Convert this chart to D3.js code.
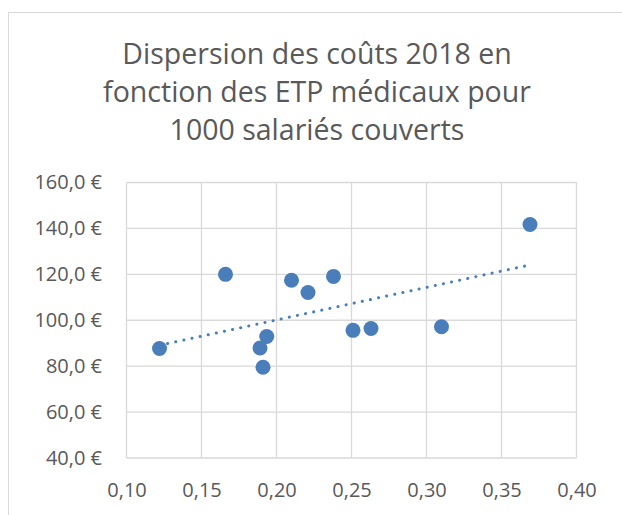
<!DOCTYPE html>
<html lang="fr">
<head>
<meta charset="UTF-8">
<title>Dispersion des coûts 2018</title>
<script src="https://d3js.org/d3.v7.min.js"></script>
<style>
  body { margin: 0; background: #fff; }
  svg text { font-family: "Open Sans", Lato, sans-serif; fill: #595959; }
</style>
</head>
<body>
<div id="chart"></div>
<script>
// donnees
var etp   = [0.122, 0.166, 0.210, 0.221, 0.238, 0.1935, 0.189, 0.191, 0.251, 0.263, 0.310, 0.369];
var couts = [87.7, 120.0, 117.4, 112.1, 119.1, 92.9, 87.9, 79.5, 95.6, 96.4, 97.2, 141.7];
var titre = ["Dispersion des coûts 2018 en", "fonction des ETP médicaux pour", "1000 salariés couverts"];
var xTicks = [0.10, 0.15, 0.20, 0.25, 0.30, 0.35, 0.40];
var yTicks = [40, 60, 80, 100, 120, 140, 160];

var W = 622, H = 515;
var marge = {haut: 182.5, droite: 45.5, bas: 57, gauche: 126.5};
var bleu = "#4a7ebb";

var svg = d3.select("#chart").append("svg")
    .attr("width", W).attr("height", H);

// cadre du graphique (depasse de l'image a droite et en bas)
svg.append("rect")
    .attr("x", 8.5).attr("y", 12.5)
    .attr("width", W + 20).attr("height", H + 20)
    .attr("fill", "#fff").attr("stroke", "#d9d9d9").attr("stroke-width", 1);

// titre
svg.append("text")
    .attr("x", 317).attr("y", 64)
    .attr("text-anchor", "middle")
    .style("font-size", "28.5px")
  .selectAll("tspan").data(titre).join("tspan")
    .attr("x", 317)
    .attr("dy", function(d, i) { return i ? 38 : 0; })
    .text(function(d) { return d; });

var x = d3.scaleLinear().domain([0.10, 0.40]).range([marge.gauche, W - marge.droite]);
var y = d3.scaleLinear().domain([40, 160]).range([H - marge.bas, marge.haut]);

var fmtX = function(d) { return d3.format(".2f")(d).replace(".", ","); };
var fmtY = function(d) { return d3.format(".1f")(d).replace(".", ",") + " €"; };

// grille
var grille = svg.append("g").attr("stroke", "#d9d9d9").attr("stroke-width", 1.3);
grille.selectAll("line.v").data(xTicks).join("line")
    .attr("class", "v")
    .attr("x1", function(d) { return x(d); }).attr("x2", function(d) { return x(d); })
    .attr("y1", y(40)).attr("y2", y(160));
grille.selectAll("line.h").data(yTicks).join("line")
    .attr("class", "h")
    .attr("x1", x(0.10)).attr("x2", x(0.40))
    .attr("y1", function(d) { return y(d); }).attr("y2", function(d) { return y(d); });

// axes (texte seulement)
var axeX = svg.append("g")
    .attr("transform", "translate(0," + (H - marge.bas) + ")")
    .call(d3.axisBottom(x).tickValues(xTicks).tickFormat(fmtX).tickSize(0).tickPadding(25));
var axeY = svg.append("g")
    .attr("transform", "translate(" + marge.gauche + ",0)")
    .call(d3.axisLeft(y).tickValues(yTicks).tickFormat(fmtY).tickSize(0).tickPadding(24.5));
[axeX, axeY].forEach(function(a) {
  a.select(".domain").remove();
  a.selectAll("text").style("font-size", "20px").attr("fill", "#595959")
    .style("font-family", "'Open Sans', Lato, sans-serif");
});

// courbe de tendance lineaire (moindres carres)
var mx = d3.mean(etp), my = d3.mean(couts);
var sxy = d3.sum(etp, function(v, i) { return (v - mx) * (couts[i] - my); });
var sxx = d3.sum(etp, function(v) { return (v - mx) * (v - mx); });
var pente = sxy / sxx, origine = my - pente * mx;
var x0 = d3.min(etp), x1 = d3.max(etp);
svg.append("line")
    .attr("x1", x(x0)).attr("y1", y(origine + pente * x0))
    .attr("x2", x(x1)).attr("y2", y(origine + pente * x1))
    .attr("stroke", bleu).attr("stroke-width", 3)
    .attr("stroke-linecap", "round").attr("stroke-dasharray", "0.1 8.2");

// points
svg.append("g").selectAll("circle").data(etp).join("circle")
    .attr("cx", function(d) { return x(d); })
    .attr("cy", function(d, i) { return y(couts[i]); })
    .attr("r", 7.5)
    .attr("fill", bleu);
</script>
</body>
</html>
